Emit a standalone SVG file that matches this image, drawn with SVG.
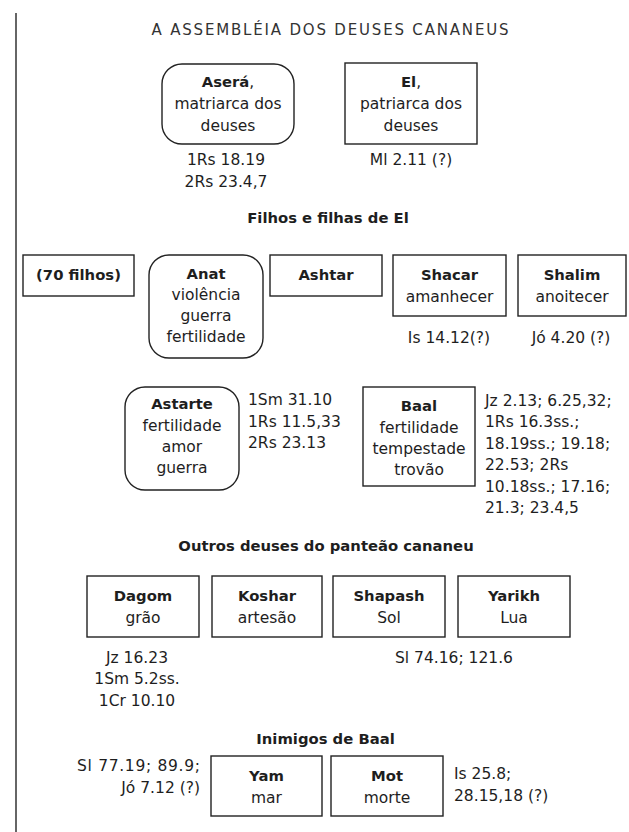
<svg xmlns="http://www.w3.org/2000/svg" width="629" height="832" viewBox="0 0 629 832">
<style>
text{font-family:"DejaVu Sans","Open Sans",sans-serif;font-size:15.5px;fill:#1e1e1e;text-anchor:middle}
.b{font-weight:bold;font-size:14.8px}
.l{text-anchor:start}
.r{text-anchor:end}
.t{font-size:15px;fill:#333}
.box{fill:#fff;stroke:#222;stroke-width:1.4}
</style>
<rect width="629" height="832" fill="#fff"/>
<line x1="16" y1="13" x2="16" y2="832" stroke="#333" stroke-width="1.5"/>
<text class="t" x="330" y="35" textLength="357" lengthAdjust="spacing">A ASSEMBLÉIA DOS DEUSES CANANEUS</text>

<g id="asera">
<rect class="box" x="162" y="64" width="132" height="80" rx="20"/>
<text x="228" y="87"><tspan class="b">Aserá</tspan>,</text>
<text x="228" y="109">matriarca dos</text>
<text x="228" y="131">deuses</text>
<text x="226" y="165">1Rs 18.19</text>
<text x="226" y="187">2Rs 23.4,7</text>
</g>
<g id="el">
<rect class="box" x="345" y="63" width="132" height="81"/>
<text x="411" y="87"><tspan class="b">El</tspan>,</text>
<text x="411" y="109">patriarca dos</text>
<text x="411" y="131">deuses</text>
<text x="411" y="165">Ml 2.11 (?)</text>
</g>

<text class="b" x="328" y="223">Filhos e filhas de El</text>

<g id="setenta">
<rect class="box" x="23" y="255" width="111" height="41"/>
<text class="b" x="78.5" y="280">(70 filhos)</text>
</g>
<g id="anat">
<rect class="box" x="149" y="255" width="114" height="103" rx="20"/>
<text class="b" x="206" y="279">Anat</text>
<text x="206" y="300">violência</text>
<text x="206" y="321">guerra</text>
<text x="206" y="342">fertilidade</text>
</g>
<g id="ashtar">
<rect class="box" x="270" y="255" width="112" height="41"/>
<text class="b" x="326" y="280">Ashtar</text>
</g>
<g id="shacar">
<rect class="box" x="393" y="255" width="113" height="61"/>
<text class="b" x="449.5" y="280">Shacar</text>
<text x="449.5" y="302">amanhecer</text>
<text x="449" y="343">Is 14.12(?)</text>
</g>
<g id="shalim">
<rect class="box" x="518" y="255" width="108" height="61"/>
<text class="b" x="572" y="280">Shalim</text>
<text x="572" y="302">anoitecer</text>
<text x="571" y="343">Jó 4.20 (?)</text>
</g>

<g id="astarte">
<rect class="box" x="125" y="387" width="114" height="103" rx="20"/>
<text class="b" x="182" y="409">Astarte</text>
<text x="182" y="431">fertilidade</text>
<text x="182" y="452">amor</text>
<text x="182" y="473">guerra</text>
<text class="l" x="248" y="405">1Sm 31.10</text>
<text class="l" x="248" y="427">1Rs 11.5,33</text>
<text class="l" x="248" y="448">2Rs 23.13</text>
</g>
<g id="baal">
<rect class="box" x="363" y="387" width="112" height="99"/>
<text class="b" x="419" y="411">Baal</text>
<text x="419" y="433">fertilidade</text>
<text x="419" y="454">tempestade</text>
<text x="419" y="475">trovão</text>
<text class="l" x="485" y="406">Jz 2.13; 6.25,32;</text>
<text class="l" x="485" y="427">1Rs 16.3ss.;</text>
<text class="l" x="485" y="449">18.19ss.; 19.18;</text>
<text class="l" x="485" y="470">22.53; 2Rs</text>
<text class="l" x="485" y="492">10.18ss.; 17.16;</text>
<text class="l" x="485" y="513">21.3; 23.4,5</text>
</g>

<text class="b" x="326" y="551">Outros deuses do panteão cananeu</text>

<g id="dagom">
<rect class="box" x="87" y="576" width="112" height="61"/>
<text class="b" x="143" y="601">Dagom</text>
<text x="143" y="623">grão</text>
<text x="137" y="663">Jz 16.23</text>
<text x="137" y="684">1Sm 5.2ss.</text>
<text x="137" y="706">1Cr 10.10</text>
</g>
<g id="koshar">
<rect class="box" x="212" y="576" width="110" height="61"/>
<text class="b" x="267" y="601">Koshar</text>
<text x="267" y="623">artesão</text>
</g>
<g id="shapash">
<rect class="box" x="333" y="576" width="112" height="61"/>
<text class="b" x="389" y="601">Shapash</text>
<text x="389" y="623">Sol</text>
</g>
<g id="yarikh">
<rect class="box" x="458" y="576" width="112" height="61"/>
<text class="b" x="514" y="601">Yarikh</text>
<text x="514" y="623">Lua</text>
</g>
<text x="454" y="663">Sl 74.16; 121.6</text>

<text class="b" x="325.5" y="744">Inimigos de Baal</text>

<g id="yam">
<rect class="box" x="211" y="756" width="111" height="60"/>
<text class="b" x="266.5" y="781">Yam</text>
<text x="266.5" y="803">mar</text>
<text class="r" x="200" y="771" textLength="123" lengthAdjust="spacing">Sl 77.19; 89.9;</text>
<text class="r" x="200" y="793">Jó 7.12 (?)</text>
</g>
<g id="mot">
<rect class="box" x="331" y="756" width="112" height="60"/>
<text class="b" x="387" y="781">Mot</text>
<text x="387" y="803">morte</text>
<text class="l" x="454" y="779">Is 25.8;</text>
<text class="l" x="454" y="801">28.15,18 (?)</text>
</g>
<g id="connectors"/>
</svg>
